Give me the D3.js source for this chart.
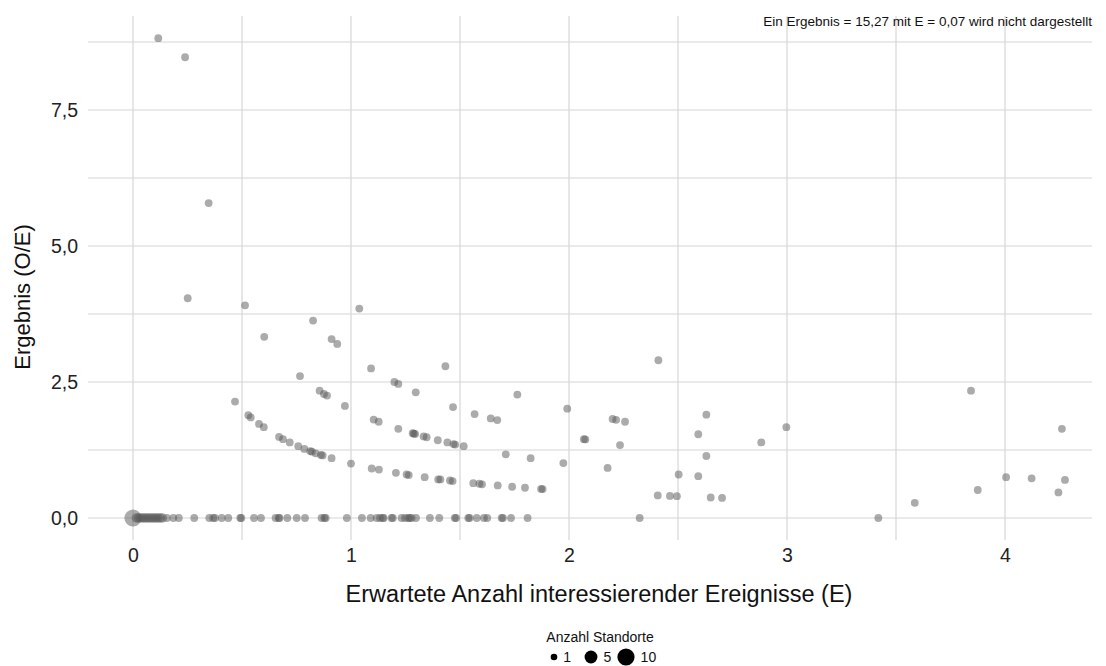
<!DOCTYPE html>
<html><head><meta charset="utf-8">
<script src="https://cdn.jsdelivr.net/npm/d3@7"></script>
<style>body{margin:0;background:#fff;font-family:"Liberation Sans",Arial,sans-serif;}</style>
</head><body><svg id="c" width="1106" height="666"></svg>
<script>
// Expected events E (x), result O/E (y), number of sites (size)
const E = [
 0.116,0.239,0.347,0.251,0.514,0.602,0.826,0.911,0.937,1.038,
 0.468,0.529,0.540,0.578,0.600,0.670,0.688,0.719,0.758,0.786,0.813,0.821,0.838,0.862,0.870,0.911,1.000,1.095,1.128,1.206,1.255,1.265,1.338,1.400,1.410,1.454,1.466,1.561,1.589,1.601,1.673,1.739,1.798,1.872,1.879,2.407,2.463,2.495,2.650,2.702,3.586,
 0.766,0.856,0.876,0.890,0.972,1.104,1.127,1.217,1.283,1.288,1.294,1.333,1.347,1.398,1.442,1.470,1.478,1.517,1.710,1.824,1.974,2.177,2.503,2.593,3.875,4.245,
 1.092,1.199,1.217,1.297,1.468,1.567,1.641,1.671,2.068,2.075,2.234,2.630,4.005,4.122,4.275,
 1.433,1.763,1.992,2.200,2.216,2.257,2.593,2.882,
 2.630,2.997,2.410,4.261,3.844,
 0.000,0.015,0.025,0.035,0.045,0.055,0.065,0.075,0.085,0.095,0.105,0.115,0.125,0.135,
 0.155,0.185,0.210,0.281,0.350,0.368,0.376,0.407,0.437,0.492,0.497,0.555,0.587,0.654,0.668,0.672,0.708,0.751,0.789,0.865,0.878,0.884,0.981,1.050,1.090,1.118,1.133,1.145,1.150,1.186,1.192,1.232,1.248,1.263,1.269,1.278,1.298,1.362,1.405,1.476,1.482,1.538,1.544,1.577,1.610,1.625,1.691,1.697,1.734,1.810,2.324,3.419
];
const OE = [
 8.82,8.47,5.79,4.04,3.91,3.33,3.63,3.29,3.20,3.85,
 2.14,1.89,1.85,1.73,1.67,1.49,1.45,1.39,1.32,1.27,1.23,1.22,1.19,1.16,1.15,1.10,1.00,0.91,0.89,0.83,0.80,0.79,0.75,0.71,0.71,0.69,0.68,0.64,0.63,0.62,0.60,0.575,0.556,0.534,0.532,0.415,0.406,0.401,0.377,0.370,0.279,
 2.61,2.34,2.28,2.25,2.06,1.81,1.77,1.64,1.56,1.55,1.545,1.50,1.485,1.43,1.39,1.36,1.35,1.32,1.17,1.10,1.01,0.92,0.80,0.77,0.515,0.47,
 2.75,2.50,2.465,2.31,2.04,1.91,1.83,1.80,1.45,1.445,1.34,1.14,0.75,0.73,0.70,
 2.79,2.27,2.01,1.82,1.805,1.77,1.54,1.39,
 1.90,1.67,2.90,1.64,2.34,
 0,0,0,0,0,0,0,0,0,0,0,0,0,0,
 0,0,0,0,0,0,0,0,0,0,0,0,0,0,0,0,0,0,0,0,0,0,0,0,0,0,0,0,0,0,0,0,0,0,0,0,0,0,0,0,0,0,0,0,0,0,0,0,0,0,0,0
];
const sites = E.map((e,i)=> (i===E.indexOf(0)) ? 10 : (e>0 && e<0.14 && OE[i]===0 ? 2 : 1));
const xTicks = [0,1,2,3,4];
const xMinor = [0.5,1.5,2.5,3.5];
const yTicks = [0,2.5,5,7.5];
const yMinor = [1.25,3.75,6.25,8.75];
const legendSizes = [1,5,10];

const svg = d3.select("#c");
const x = d3.scaleLinear().domain([-0.2064, 4.399]).range([88,1092]);
const y = d3.scaleLinear().domain([-0.404, 9.228]).range([540,16]);
const r = d3.scaleRadial().domain([1,10]).range([3.9,8.6]);
const fmt = d => d3.format(".1f")(d).replace(".", ",");
const gc = "#d6d6d6";
const FF = "Liberation Sans, Arial, sans-serif";

const g = svg.append("g");
g.selectAll(".hm").data(yTicks.concat(yMinor)).join("line")
 .attr("x1",88).attr("x2",1092).attr("y1",d=>y(d)).attr("y2",d=>y(d))
 .attr("stroke",gc).attr("stroke-width",1.2);
g.selectAll(".vm").data(xTicks.concat(xMinor)).join("line")
 .attr("y1",16).attr("y2",540).attr("x1",d=>x(d)).attr("x2",d=>x(d))
 .attr("stroke",gc).attr("stroke-width",1.2);

// axes
const xa = svg.append("g").attr("transform","translate(0,540)")
 .call(d3.axisBottom(x).tickValues(xTicks).tickSize(0).tickPadding(8).tickFormat(d3.format("d")));
xa.select(".domain").remove();
xa.selectAll("text").attr("font-size",19.5).attr("fill","#222").attr("font-family",FF);
const ya = svg.append("g").attr("transform","translate(88,0)")
 .call(d3.axisLeft(y).tickValues(yTicks).tickSize(0).tickPadding(10).tickFormat(fmt));
ya.select(".domain").remove();
ya.selectAll("text").attr("font-size",19.5).attr("fill","#222").attr("font-family",FF);

// points
svg.append("g").selectAll("circle").data(E.map((e,i)=>({e, v:OE[i], n:sites[i]})))
 .join("circle").attr("cx",d=>x(d.e)).attr("cy",d=>y(d.v)).attr("r",d=>r(d.n))
 .attr("fill","#575757").attr("fill-opacity",0.5);

// titles
svg.append("text").attr("x",599).attr("y",602).attr("text-anchor","middle")
 .attr("font-size",23.5).attr("fill","#111").text("Erwartete Anzahl interessierender Ereignisse (E)");
svg.append("text").attr("transform","translate(30,297) rotate(-90)").attr("text-anchor","middle")
 .attr("font-size",22).attr("fill","#111").text("Ergebnis (O/E)");
svg.append("text").attr("x",1092).attr("y",26).attr("text-anchor","end")
 .attr("font-size",13.5).attr("fill","#111").text("Ein Ergebnis = 15,27 mit E = 0,07 wird nicht dargestellt");

// legend
svg.append("text").attr("x",600).attr("y",642).attr("text-anchor","middle")
 .attr("font-size",14).attr("fill","#111").text("Anzahl Standorte");
const lx = [554,591,626];
const lg = svg.append("g").selectAll("g").data(legendSizes).join("g")
 .attr("transform",(d,i)=>`translate(${lx[i]},657)`);
lg.append("circle").attr("r",d=>d===1 ? 3.3 : r(d)).attr("fill","#000");
lg.append("text").attr("x",d=>(d===1 ? 3.3 : r(d))+6).attr("y",5).attr("font-size",14).attr("fill","#111").text(d=>d);
</script></body></html>
